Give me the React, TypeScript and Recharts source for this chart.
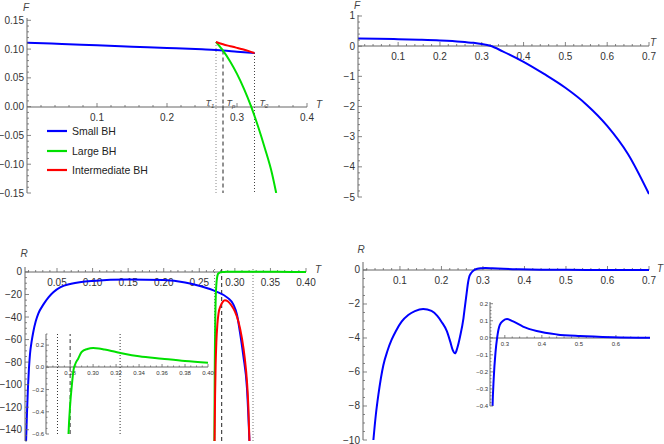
import React from "react";
import { LineChart, Line, XAxis, YAxis, ReferenceLine, Legend } from "recharts";

const BLUE = "#0000ff";
const GREEN = "#00e000";
const RED = "#ff0000";
const AXIS = "#666";
const TXT = "#333";
const FONT = "'Liberation Sans', Arial, sans-serif";

// ---- top left: free energy near the transition
const f1SmallT = [0, 0.05, 0.1, 0.15, 0.2, 0.25, 0.28, 0.3, 0.325];
const f1SmallF = [0.1112, 0.1088, 0.1065, 0.1042, 0.102, 0.0995, 0.0975, 0.0955, 0.0932];
const f1LargeT = [0.27, 0.275, 0.28, 0.29, 0.3, 0.31, 0.32, 0.33, 0.34, 0.35, 0.356];
const f1LargeF = [0.1123, 0.105, 0.0975, 0.079, 0.057, 0.031, 0.001, -0.034, -0.073, -0.116, -0.15];
const f1InterT = [0.27, 0.275, 0.28, 0.287, 0.294, 0.301, 0.308, 0.318, 0.325];
const f1InterF = [0.1123, 0.1102, 0.1083, 0.106, 0.104, 0.1018, 0.0996, 0.096, 0.0932];
const f1Marks = { T1: 0.27, Tp: 0.28, T2: 0.325 };
const f1MarkTop = { T1: 0.1123, Tp: 0.0975, T2: 0.0932 };

// ---- top right: free energy, wide range
const f2T = [0.004, 0.05, 0.1, 0.15, 0.2, 0.25, 0.28, 0.3, 0.32, 0.35, 0.4, 0.45, 0.5, 0.55, 0.6, 0.65, 0.7];
const f2F = [0.254, 0.245, 0.232, 0.214, 0.19, 0.15, 0.11, 0.07, 0.012, -0.17, -0.52, -0.93, -1.38, -1.93, -2.64, -3.58, -4.9];

// ---- bottom left: curvature R for the three branches
const r3SmallT = [0.0065, 0.0078, 0.009, 0.0105, 0.012, 0.0145, 0.0167, 0.02, 0.0237, 0.0307, 0.038, 0.0448, 0.055, 0.07, 0.1, 0.15, 0.2, 0.23, 0.251, 0.274, 0.29, 0.298, 0.303, 0.307, 0.312, 0.317, 0.3205];
const r3SmallR = [-150, -125, -105, -86, -73, -61, -53, -44, -37, -29, -22.5, -18, -13.5, -10.5, -8, -6.8, -7.2, -9.3, -12.5, -17.5, -23, -29, -38, -53, -75, -103, -150];
const r3LargeT = [0.2712, 0.2716, 0.272, 0.2725, 0.273, 0.274, 0.275, 0.276, 0.277, 0.2786, 0.28, 0.2815, 0.283, 0.2845, 0.287, 0.29, 0.295, 0.3, 0.305, 0.31, 0.32, 0.327, 0.34, 0.36, 0.38, 0.4];
const r3LargeR = [-150, -100, -65, -40, -25, -11, -5, -2.2, -1.2, -0.6, -0.34, -0.16, -0.02, 0.03, 0.078, 0.138, 0.165, 0.174, 0.17, 0.16, 0.138, 0.123, 0.1, 0.078, 0.057, 0.042];
const r3InterT = [0.2715, 0.2722, 0.273, 0.274, 0.2755, 0.277, 0.28, 0.283, 0.286, 0.29, 0.295, 0.3, 0.305, 0.31, 0.314, 0.317, 0.319, 0.3205];
const r3InterR = [-150, -110, -82, -62, -46, -37, -30, -26.5, -25, -26, -29.5, -35, -44, -59, -77, -97, -120, -150];
const r3Marks = [0.2715, 0.2815, 0.3255];
const r3InsetMarks = [0.269, 0.28, 0.3235];

// ---- bottom right: curvature R, wide range
const r4T = [0.036, 0.042, 0.048, 0.06, 0.07, 0.08, 0.09, 0.104, 0.12, 0.136, 0.156, 0.176, 0.19, 0.2, 0.213, 0.221, 0.227, 0.233, 0.238, 0.245, 0.253, 0.257, 0.261, 0.264, 0.2668, 0.27, 0.2749, 0.2792, 0.2865, 0.2955, 0.306, 0.3225, 0.349, 0.386, 0.44, 0.503, 0.592, 0.7];
const r4R = [-10, -8.5, -7.35, -5.6, -4.75, -4.1, -3.6, -3.04, -2.65, -2.42, -2.29, -2.41, -2.7, -3.04, -3.6, -4.2, -4.7, -4.9, -4.6, -3.9, -2.84, -2.06, -1.3, -0.75, -0.41, -0.24, -0.084, 0, 0.076, 0.1, 0.11, 0.096, 0.066, 0.04, 0.02, 0.01, 0.003, 0];

// tick labels
const p1XMajor = [0.1, 0.2, 0.3, 0.4];
const p1YMajor = [-0.15, -0.1, -0.05, 0, 0.05, 0.1, 0.15];
const p2XMajor = [0.1, 0.2, 0.3, 0.4, 0.5, 0.6, 0.7];
const p2YMajor = [-5, -4, -3, -2, -1, 0, 1];
const p3XMajor = [0.05, 0.1, 0.15, 0.2, 0.25, 0.3, 0.35, 0.4];
const p3YMajor = [-140, -120, -100, -80, -60, -40, -20, 0];
const p4XMajor = [0.1, 0.2, 0.3, 0.4, 0.5, 0.6, 0.7];
const p4YMajor = [-10, -8, -6, -4, -2, 0];
const i3XMajor = [0.28, 0.3, 0.32, 0.34, 0.36, 0.38, 0.4];
const i3YMajor = [-0.6, -0.4, -0.2, 0, 0.2];
const i4XMajor = [0.3, 0.4, 0.5, 0.6];
const i4YMajor = [-0.4, -0.3, -0.2, -0.1, 0, 0.1, 0.2];

const LEGEND_ORDER = ["Small BH", "Large BH", "Intermediate BH"];

type Pt = { T: number; v: number };
const zip = (ts: number[], vs: number[]): Pt[] => ts.map((T, i) => ({ T, v: vs[i] }));
const steps = (a: number, b: number, s: number) => {
  const out: number[] = [];
  for (let i = 0; a + i * s <= b + 1e-9; i++) out.push(Math.round((a + i * s) * 1e6) / 1e6);
  return out;
};
const fmt = (d: number) => (v: number) => v.toFixed(d).replace("-", "\u2212");

type Axis = { domain: [number, number]; ticks: number[]; major: number[]; fmt: (v: number) => string };
type Series = { name: string; color: string; data: Pt[] };
type Box = { l: number; t: number; r: number; b: number };

const isMajor = (list: number[], v: number) => list.some((m) => Math.abs(m - v) < 1e-9);

function Panel(props: {
  box: Box;
  x: Axis;
  y: Axis;
  series: Series[];
  fs: number;
  tl: number;
  yw: number;
  refs?: React.ReactNode;
  legend?: React.ReactNode;
}) {
  const { box, x, y, series, fs, tl, yw, refs, legend } = props;
  const w = box.r - box.l;
  const h = box.b - box.t;
  const pad = 10;
  const xh = 24;
  const zeroY = box.t + (y.domain[1] / (y.domain[1] - y.domain[0])) * h;

  const xTick = (p: any) => {
    const v = p.payload.value;
    const mj = isMajor(x.major, v);
    return (
      <g>
        <line x1={p.x} x2={p.x} y1={p.y} y2={p.y - (mj ? tl : tl / 2)} stroke={AXIS} strokeWidth={0.8} />
        {mj && (
          <text x={p.x} y={p.y + fs * 1.35} textAnchor="middle" fontSize={fs} fontFamily={FONT} fill={TXT}>
            {x.fmt(v)}
          </text>
        )}
      </g>
    );
  };
  const yTick = (p: any) => {
    const v = p.payload.value;
    const mj = isMajor(y.major, v);
    return (
      <g>
        <line x1={p.x} x2={p.x + (mj ? tl : tl / 2)} y1={p.y} y2={p.y} stroke={AXIS} strokeWidth={0.8} />
        {mj && (
          <text x={p.x - fs * 0.3} y={p.y + fs * 0.35} textAnchor="end" fontSize={fs} fontFamily={FONT} fill={TXT}>
            {y.fmt(v)}
          </text>
        )}
      </g>
    );
  };

  return (
    <>
      {/* horizontal axis sits at y = 0, so it gets its own strip */}
      <div style={{ position: "absolute", left: box.l - pad, top: zeroY - pad }}>
        <LineChart width={w + 2 * pad} height={pad + xh} margin={{ top: 0, right: pad, bottom: 0, left: pad }} data={series[0].data}>
          <XAxis
            type="number"
            dataKey="T"
            domain={x.domain}
            allowDataOverflow
            ticks={x.ticks}
            interval={0}
            tickSize={0}
            tickMargin={0}
            tickLine={false}
            height={xh}
            axisLine={{ stroke: AXIS }}
            tick={xTick}
          />
          <YAxis hide domain={[0, 1]} />
        </LineChart>
      </div>
      <div style={{ position: "absolute", left: box.l - yw, top: box.t - pad }}>
        <LineChart width={yw + w + pad} height={h + 2 * pad} margin={{ top: pad, right: pad, bottom: pad, left: 0 }}>
          <XAxis type="number" dataKey="T" domain={x.domain} allowDataOverflow hide />
          <YAxis
            type="number"
            domain={y.domain}
            allowDataOverflow
            width={yw}
            ticks={y.ticks}
            interval={0}
            tickSize={0}
            tickMargin={0}
            tickLine={false}
            axisLine={{ stroke: AXIS }}
            tick={yTick}
          />
          {refs}
          {series.map((s) => (
            <Line
              key={s.name}
              name={s.name}
              data={s.data}
              dataKey="v"
              type="monotone"
              stroke={s.color}
              strokeWidth={2}
              dot={false}
              activeDot={false}
              isAnimationActive={false}
            />
          ))}
          {legend}
        </LineChart>
      </div>
    </>
  );
}

const LegendBox = (props: any) => {
  const items = [...(props.payload || [])].sort(
    (a: any, b: any) => LEGEND_ORDER.indexOf(a.value) - LEGEND_ORDER.indexOf(b.value)
  );
  return (
    <div style={{ fontFamily: FONT, fontSize: 10.5, color: "#222" }}>
      {items.map((e: any) => (
        <div key={e.value} style={{ display: "flex", alignItems: "center", height: 19.5 }}>
          <svg width={20} height={4}>
            <line x1={0} x2={20} y1={2} y2={2} stroke={e.color} strokeWidth={2.2} />
          </svg>
          <span style={{ marginLeft: 5 }}>{e.value}</span>
        </div>
      ))}
    </div>
  );
};

const Lbl = ({ x, y, size = 10, children }: { x: number; y: number; size?: number; children: React.ReactNode }) => (
  <div
    style={{
      position: "absolute",
      left: x,
      top: y,
      transform: "translate(-50%, -50%)",
      fontSize: size,
      fontStyle: "italic",
      color: "#444",
      fontFamily: FONT,
      lineHeight: 1,
      whiteSpace: "nowrap",
    }}
  >
    {children}
  </div>
);

const Sub = ({ t, s }: { t: string; s: string }) => (
  <span>
    {t}
    <span style={{ fontSize: 6, position: "relative", top: 2 }}>{s}</span>
  </span>
);

export default function App() {
  const p1Box = { l: 27, t: 18, r: 307, b: 193 };
  const p1Refs = [
    <ReferenceLine key="t1" segment={[{ x: f1Marks.T1, y: f1MarkTop.T1 }, { x: f1Marks.T1, y: -0.15 }]} stroke="#888" strokeDasharray="1 2" />,
    <ReferenceLine key="tp" segment={[{ x: f1Marks.Tp, y: f1MarkTop.Tp }, { x: f1Marks.Tp, y: -0.15 }]} stroke="#222" strokeDasharray="4 3" />,
    <ReferenceLine key="t2" segment={[{ x: f1Marks.T2, y: f1MarkTop.T2 }, { x: f1Marks.T2, y: -0.15 }]} stroke="#444" strokeDasharray="1 2" />,
  ];
  const p3Refs = r3Marks.map((m, i) => (
    <ReferenceLine key={i} x={m} stroke={i === 1 ? "#222" : "#777"} strokeDasharray={i === 1 ? "4 3" : "1 2"} />
  ));
  const i3Refs = r3InsetMarks.map((m, i) => (
    <ReferenceLine key={i} x={m} stroke="#333" strokeDasharray={i === 1 ? "4 3" : "1 2"} />
  ));

  return (
    <div
      style={{
        position: "absolute",
        left: 0,
        top: 0,
        width: 664,
        height: 444,
        background: "#fff",
        overflow: "hidden",
        fontFamily: FONT,
      }}
    >
      <Panel
        box={p1Box}
        fs={10}
        tl={4}
        yw={40}
        x={{ domain: [0, 0.4], ticks: steps(0.02, 0.4, 0.02), major: p1XMajor, fmt: fmt(1) }}
        y={{ domain: [-0.15, 0.154], ticks: steps(-0.15, 0.15, 0.01), major: p1YMajor, fmt: fmt(2) }}
        series={[
          { name: "Small BH", color: BLUE, data: zip(f1SmallT, f1SmallF) },
          { name: "Large BH", color: GREEN, data: zip(f1LargeT, f1LargeF) },
          { name: "Intermediate BH", color: RED, data: zip(f1InterT, f1InterF) },
        ]}
        refs={p1Refs}
        legend={
          <Legend
            layout="vertical"
            align="center"
            verticalAlign="middle"
            wrapperStyle={{ left: 47 - (p1Box.l - 40), top: 131 - 9.75 - (p1Box.t - 10), width: "auto", height: "auto" }}
            content={LegendBox}
          />
        }
      />
      <Panel
        box={{ l: 358, t: 15, r: 649, b: 197 }}
        fs={10}
        tl={4}
        yw={40}
        x={{ domain: [0.004, 0.7], ticks: steps(0.02, 0.7, 0.02), major: p2XMajor, fmt: fmt(1) }}
        y={{ domain: [-5, 1.033], ticks: steps(-5, 1, 0.2), major: p2YMajor, fmt: fmt(0) }}
        series={[{ name: "F", color: BLUE, data: zip(f2T, f2F) }]}
      />
      <Panel
        box={{ l: 25, t: 267, r: 306, b: 441 }}
        fs={10}
        tl={4}
        yw={40}
        x={{ domain: [0.005, 0.4], ticks: steps(0.01, 0.4, 0.01), major: p3XMajor, fmt: fmt(2) }}
        y={{ domain: [-150, 4.4], ticks: steps(-150, 0, 5), major: p3YMajor, fmt: fmt(0) }}
        series={[
          { name: "Small BH", color: BLUE, data: zip(r3SmallT, r3SmallR) },
          { name: "Large BH", color: GREEN, data: zip(r3LargeT, r3LargeR) },
          { name: "Intermediate BH", color: RED, data: zip(r3InterT, r3InterR) },
        ]}
        refs={p3Refs}
      />
      <Panel
        box={{ l: 46, t: 334, r: 208, b: 434 }}
        fs={6}
        tl={3}
        yw={22}
        x={{ domain: [0.259, 0.4], ticks: steps(0.26, 0.4, 0.005), major: i3XMajor, fmt: fmt(2) }}
        y={{ domain: [-0.6, 0.3], ticks: steps(-0.6, 0.3, 0.05), major: i3YMajor, fmt: fmt(1) }}
        series={[{ name: "Large BH", color: GREEN, data: zip(r3LargeT, r3LargeR) }]}
        refs={i3Refs}
      />
      <Panel
        box={{ l: 363, t: 262, r: 649, b: 440 }}
        fs={10}
        tl={4}
        yw={40}
        x={{ domain: [0.011, 0.7], ticks: steps(0.02, 0.7, 0.02), major: p4XMajor, fmt: fmt(1) }}
        y={{ domain: [-10, 0.47], ticks: steps(-10, 0, 0.5), major: p4YMajor, fmt: fmt(0) }}
        series={[{ name: "R", color: BLUE, data: zip(r4T, r4R) }]}
      />
      <Panel
        box={{ l: 490, t: 302, r: 650, b: 406 }}
        fs={6}
        tl={3}
        yw={22}
        x={{ domain: [0.26, 0.692], ticks: steps(0.26, 0.68, 0.02), major: i4XMajor, fmt: fmt(1) }}
        y={{ domain: [-0.4, 0.21], ticks: steps(-0.4, 0.2, 0.02), major: i4YMajor, fmt: fmt(1) }}
        series={[{ name: "R", color: BLUE, data: zip(r4T, r4R) }]}
      />

      <Lbl x={26} y={8}>F</Lbl>
      <Lbl x={319} y={105}>T</Lbl>
      <Lbl x={357} y={6}>F</Lbl>
      <Lbl x={653} y={43}>T</Lbl>
      <Lbl x={24} y={254}>R</Lbl>
      <Lbl x={318} y={270}>T</Lbl>
      <Lbl x={361} y={250}>R</Lbl>
      <Lbl x={660} y={269}>T</Lbl>

      <Lbl x={210} y={103} size={9}>
        <Sub t="T" s="1" />
      </Lbl>
      <Lbl x={231} y={103} size={9}>
        <Sub t="T" s="p" />
      </Lbl>
      <Lbl x={264} y={103} size={9}>
        <Sub t="T" s="2" />
      </Lbl>
    </div>
  );
}
